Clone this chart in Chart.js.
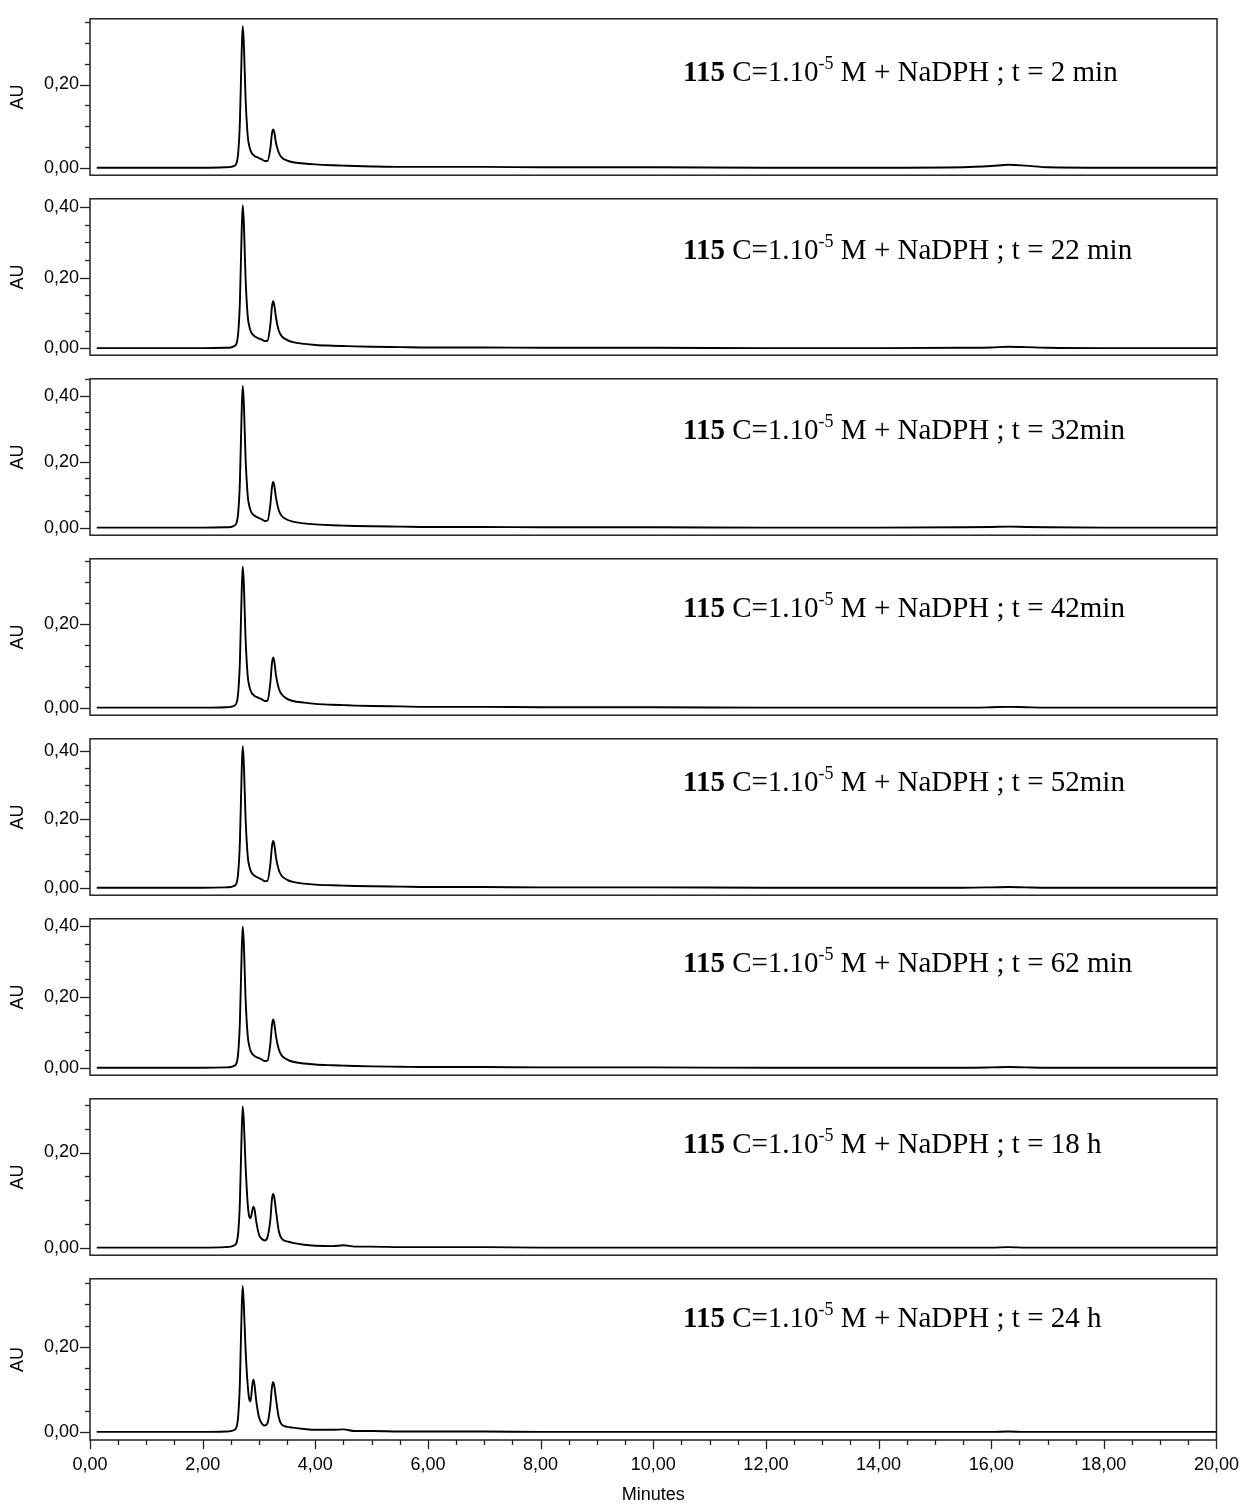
<!DOCTYPE html>
<html>
<head>
<meta charset="utf-8">
<title>HPLC 115 + NaDPH</title>
<script src="https://cdn.jsdelivr.net/npm/chart.js@4.4.1/dist/chart.umd.min.js"></script>
<style>
  html, body { margin: 0; padding: 0; background: #fff; }
  #wrap { position: relative; width: 1244px; height: 1504px; }
</style>
</head>
<body>
<div id="wrap"></div>
<script>
// retention time (min), shared by all runs
var minutes = [
  0.12, 1.0, 2.0, 2.4,
  2.5, 2.55, 2.6, 2.63, 2.66, 2.69, 2.71, 2.73, 2.76, 2.8,
  2.83, 2.85, 2.88, 2.9, 2.92, 2.95, 3.0, 3.05, 3.1, 3.15,
  3.2, 3.23, 3.25, 3.27, 3.3, 3.35, 3.4, 3.5, 3.6, 3.8,
  4.0, 4.3, 4.5, 4.7, 5.0, 5.5, 6.0, 7.0, 8.0, 9.0,
  10.0, 12.0, 14.0, 15.5, 16.0, 16.3, 16.6, 17.0, 18.0, 20.0
];

// absorbance (AU) for each run
var au2min = [
  0, 0, 0, 0.001,
  0.002, 0.004, 0.011, 0.036, 0.110, 0.270, 0.340, 0.300, 0.170, 0.075,
  0.050, 0.041, 0.033, 0.031, 0.028, 0.026, 0.023, 0.020, 0.016, 0.016,
  0.046, 0.083, 0.092, 0.086, 0.060, 0.036, 0.025, 0.017, 0.013, 0.010,
  0.008, 0.006, 0.005, 0.004, 0.003, 0.002, 0.002, 0.002, 0.001, 0.001,
  0.001, 0, 0, 0.001, 0.004, 0.007, 0.005, 0.001, 0, 0
];
var au22min = [
  0, 0, 0, 0.001,
  0.002, 0.005, 0.013, 0.043, 0.131, 0.321, 0.405, 0.357, 0.202, 0.089,
  0.060, 0.049, 0.040, 0.037, 0.034, 0.031, 0.027, 0.024, 0.020, 0.021,
  0.066, 0.119, 0.133, 0.123, 0.087, 0.050, 0.034, 0.023, 0.017, 0.012,
  0.009, 0.007, 0.006, 0.005, 0.004, 0.003, 0.002, 0.002, 0.001, 0.001,
  0.001, 0, 0, 0.001, 0.002, 0.004, 0.003, 0.001, 0, 0
];
var au32min = [
  0, 0, 0, 0.001,
  0.002, 0.005, 0.014, 0.045, 0.139, 0.342, 0.430, 0.380, 0.215, 0.095,
  0.064, 0.052, 0.042, 0.039, 0.036, 0.033, 0.029, 0.025, 0.020, 0.021,
  0.069, 0.124, 0.139, 0.128, 0.091, 0.053, 0.036, 0.024, 0.018, 0.013,
  0.010, 0.007, 0.006, 0.005, 0.004, 0.003, 0.002, 0.002, 0.001, 0.001,
  0.001, 0, 0, 0.001, 0.002, 0.003, 0.002, 0.001, 0, 0
];
var au42min = [
  0, 0, 0, 0.001,
  0.002, 0.004, 0.011, 0.036, 0.109, 0.268, 0.337, 0.297, 0.168, 0.074,
  0.050, 0.041, 0.033, 0.031, 0.028, 0.026, 0.023, 0.020, 0.016, 0.017,
  0.059, 0.107, 0.120, 0.111, 0.078, 0.046, 0.032, 0.021, 0.016, 0.012,
  0.009, 0.007, 0.006, 0.005, 0.004, 0.003, 0.002, 0.002, 0.001, 0.001,
  0.001, 0, 0, 0, 0.001, 0.002, 0.001, 0, 0, 0
];
var au52min = [
  0, 0, 0, 0.001,
  0.002, 0.005, 0.013, 0.044, 0.134, 0.329, 0.414, 0.365, 0.207, 0.091,
  0.061, 0.050, 0.041, 0.038, 0.035, 0.032, 0.028, 0.024, 0.019, 0.020,
  0.068, 0.122, 0.137, 0.127, 0.089, 0.052, 0.035, 0.023, 0.017, 0.012,
  0.009, 0.007, 0.006, 0.005, 0.004, 0.003, 0.002, 0.002, 0.001, 0.001,
  0.001, 0, 0, 0, 0.001, 0.002, 0.001, 0, 0, 0
];
var au62min = [
  0, 0, 0, 0.001,
  0.002, 0.005, 0.013, 0.042, 0.129, 0.316, 0.398, 0.351, 0.199, 0.088,
  0.059, 0.048, 0.039, 0.036, 0.033, 0.030, 0.027, 0.023, 0.019, 0.020,
  0.067, 0.121, 0.136, 0.126, 0.089, 0.052, 0.035, 0.023, 0.017, 0.012,
  0.009, 0.007, 0.006, 0.005, 0.004, 0.003, 0.002, 0.002, 0.001, 0.001,
  0.001, 0, 0, 0, 0.001, 0.002, 0.001, 0, 0, 0
];
var au18h = [
  0, 0, 0, 0.001,
  0.002, 0.004, 0.010, 0.031, 0.096, 0.236, 0.297, 0.265, 0.175, 0.090,
  0.064, 0.062, 0.078, 0.086, 0.080, 0.055, 0.027, 0.018, 0.015, 0.022,
  0.058, 0.103, 0.113, 0.106, 0.078, 0.035, 0.019, 0.013, 0.010, 0.006,
  0.004, 0.003, 0.005, 0.002, 0.002, 0.001, 0.001, 0.001, 0, 0,
  0, 0, 0, 0, 0, 0.001, 0, 0, 0, 0
];
var au24h = [
  0, 0, 0, 0.001,
  0.002, 0.004, 0.011, 0.036, 0.111, 0.273, 0.343, 0.303, 0.200, 0.110,
  0.075, 0.072, 0.108, 0.123, 0.112, 0.075, 0.035, 0.020, 0.015, 0.020,
  0.060, 0.105, 0.117, 0.110, 0.080, 0.035, 0.018, 0.012, 0.010, 0.007,
  0.005, 0.005, 0.006, 0.002, 0.002, 0.001, 0.001, 0.001, 0, 0,
  0, 0, 0, 0, 0, 0.001, 0, 0, 0, 0
];

var runs = [au2min, au22min, au32min, au42min, au52min, au62min, au18h, au24h];
var runTimes = ['t = 2 min', 't = 22 min', 't = 32min', 't = 42min', 't = 52min', 't = 62 min', 't = 18 h', 't = 24 h'];
var compound = '115';
var concText = ' C=1.10';
var concExp = '-5';
var reagentText = ' M + NaDPH ; ';

// y range of each panel (AU)
var yMin = [-0.018, -0.020, -0.023, -0.018, -0.022, -0.021, -0.016, -0.019];
var yMax = [0.358, 0.424, 0.452, 0.356, 0.436, 0.420, 0.313, 0.360];

var panelTops = [15, 195, 375, 555, 735, 915, 1095, 1275];
var labelDrop = [62, 60, 60, 58, 52, 53, 54, 48];

Chart.defaults.font.family = '"Liberation Sans", Arial, sans-serif';
Chart.defaults.font.size = 18;
Chart.defaults.color = '#000';

function isMult(v, step) {
  return Math.abs(v / step - Math.round(v / step)) < 1e-6;
}
function fmt(v) {
  return (Math.abs(v) < 1e-9 ? 0 : v).toFixed(2).replace('.', ',');
}

var framePlugin = {
  id: 'frame',
  afterDraw: function (chart) {
    var ctx = chart.ctx, a = chart.chartArea;
    ctx.save();
    ctx.strokeStyle = '#222';
    ctx.lineWidth = 1.5;
    ctx.strokeRect(a.left, a.top, a.right - a.left, a.bottom - a.top);
    ctx.lineWidth = 1.3;
    var ys = chart.scales.y;
    ys.ticks.forEach(function (t) {
      var py = Math.round(ys.getPixelForValue(t.value)) + 0.5;
      var len = isMult(t.value, 0.2) ? 10 : 5;
      ctx.beginPath();
      ctx.moveTo(a.left - len, py);
      ctx.lineTo(a.left, py);
      ctx.stroke();
    });
    if (chart.options.scales.x.display) {
      var xs = chart.scales.x;
      xs.ticks.forEach(function (t) {
        var px = Math.round(xs.getPixelForValue(t.value)) + 0.5;
        var len = isMult(t.value, 2) ? 9 : 5;
        ctx.beginPath();
        ctx.moveTo(px, a.bottom);
        ctx.lineTo(px, a.bottom + len);
        ctx.stroke();
      });
    }
    ctx.restore();
  }
};

var labelPlugin = {
  id: 'runLabel',
  afterDatasetsDraw: function (chart, args, opts) {
    var ctx = chart.ctx;
    var serif = '"Liberation Serif", "Times New Roman", serif';
    var x = 683, y = chart.chartArea.top + opts.drop;
    ctx.save();
    ctx.fillStyle = '#000';
    ctx.textBaseline = 'alphabetic';
    ctx.textAlign = 'left';
    ctx.font = 'bold 29px ' + serif;
    ctx.fillText(compound, x, y);
    x += ctx.measureText(compound).width;
    ctx.font = '29px ' + serif;
    ctx.fillText(concText, x, y);
    x += ctx.measureText(concText).width;
    ctx.font = '18px ' + serif;
    ctx.fillText(concExp, x, y - 12);
    x += ctx.measureText(concExp).width;
    ctx.font = '29px ' + serif;
    ctx.fillText(reagentText + opts.time, x, y);
    ctx.restore();
  }
};

function drawPanel(i) {
  var last = i === runs.length - 1;
  var canvasTop = panelTops[i] - 8;
  var h = last ? 1504 - canvasTop : 180;
  var c = document.createElement('canvas');
  c.width = 1244;
  c.height = h;
  c.style.position = 'absolute';
  c.style.left = '0px';
  c.style.top = canvasTop + 'px';
  c.style.width = '1244px';
  c.style.height = h + 'px';
  document.getElementById('wrap').appendChild(c);

  var pts = minutes.map(function (m, k) { return { x: m, y: runs[i][k] }; });

  var xScale = {
    type: 'linear',
    min: 0,
    max: 20,
    display: last,
    ticks: {
      stepSize: 0.5,
      autoSkip: false,
      maxRotation: 0,
      includeBounds: false,
      padding: 5,
      callback: function (v) { return isMult(v, 2) ? fmt(v) : ''; }
    },
    grid: { display: true, drawOnChartArea: false, drawTicks: true, tickLength: 9, tickColor: 'rgba(0,0,0,0)' },
    border: { display: false },
    title: { display: true, text: 'Minutes', font: { size: 18, lineHeight: 1 }, padding: { top: 0, bottom: 0 } }
  };
  if (last) {
    xScale.afterFit = function (s) { s.height = 64; };
  }

  new Chart(c.getContext('2d'), {
    type: 'line',
    data: {
      datasets: [{
        data: pts,
        borderColor: '#000',
        borderWidth: 1.9,
        pointRadius: 0,
        fill: false,
        cubicInterpolationMode: 'monotone'
      }]
    },
    options: {
      responsive: false,
      maintainAspectRatio: false,
      animation: false,
      layout: { padding: { top: 8, right: 27, bottom: last ? 0 : 8, left: 0 } },
      plugins: {
        legend: { display: false },
        tooltip: { enabled: false },
        runLabel: { time: runTimes[i], drop: labelDrop[i] }
      },
      scales: {
        x: xScale,
        y: {
          min: yMin[i],
          max: yMax[i],
          ticks: {
            stepSize: 0.05,
            autoSkip: false,
            includeBounds: false,
            padding: 1,
            callback: function (v) { return isMult(v, 0.2) ? fmt(v) : ''; }
          },
          grid: { display: true, drawOnChartArea: false, drawTicks: true, tickLength: 10, tickColor: 'rgba(0,0,0,0)' },
          border: { display: false },
          title: { display: true, text: 'AU', padding: { top: 7, bottom: 0 } },
          afterFit: function (s) { s.width = 90; }
        }
      }
    },
    plugins: [framePlugin, labelPlugin]
  });
}

for (var p = 0; p < runs.length; p++) {
  drawPanel(p);
}
</script>
</body>
</html>
